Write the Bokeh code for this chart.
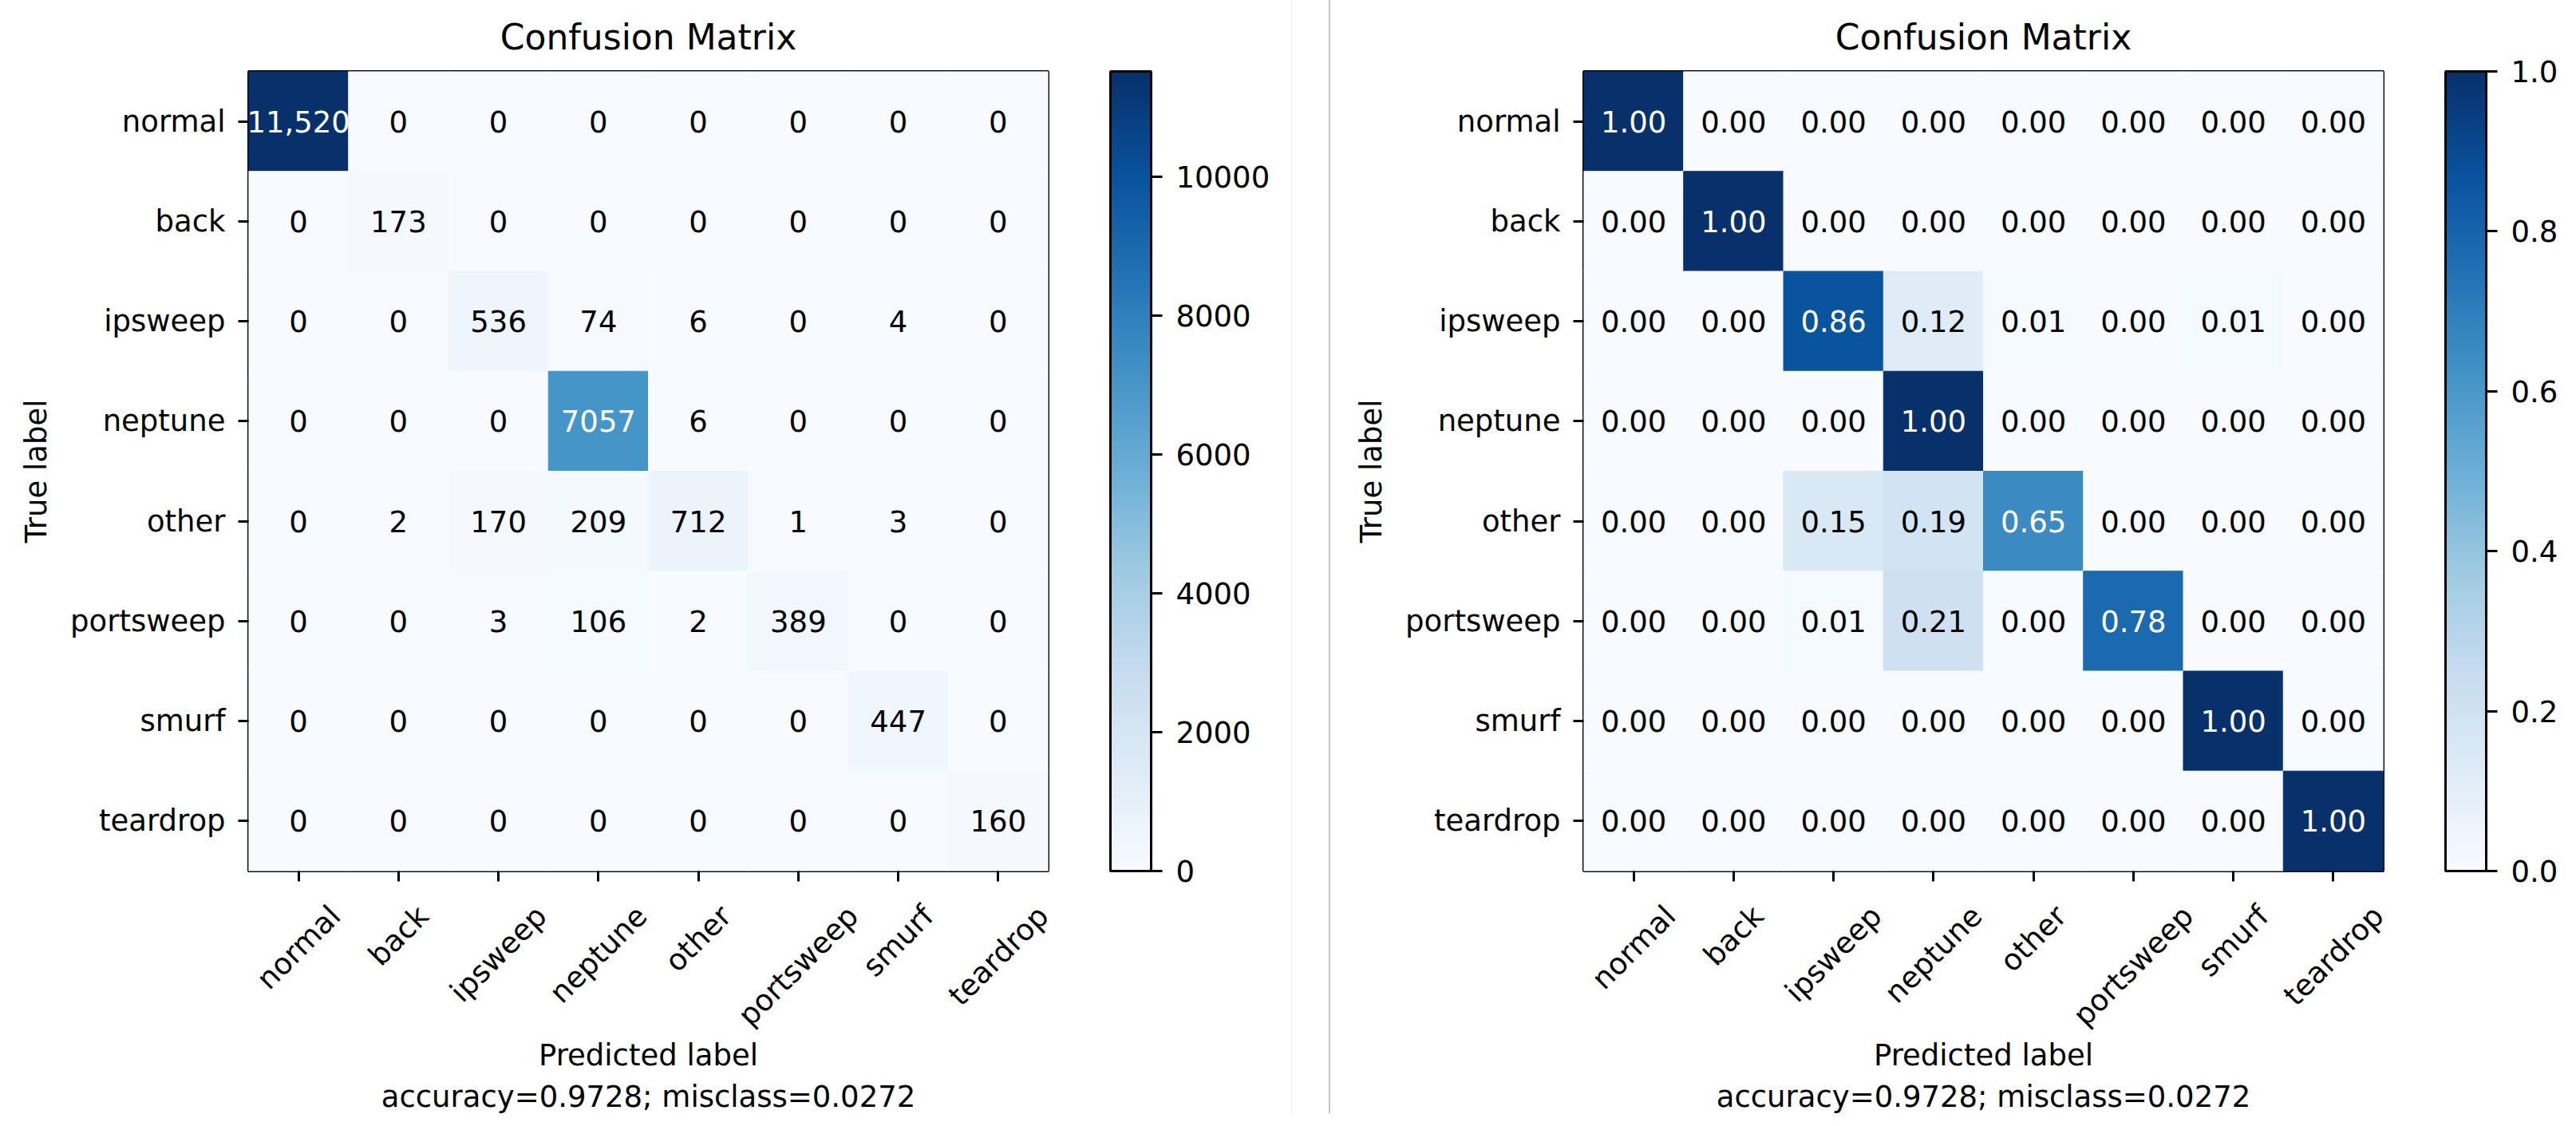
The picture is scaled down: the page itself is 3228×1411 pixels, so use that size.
import math
from bokeh.plotting import figure
from bokeh.models import (ColumnDataSource, LinearColorMapper, ColorBar, FixedTicker, LinearAxis,
                          Range1d, Div, Spacer, PrintfTickFormatter, BasicTickFormatter)
from bokeh.layouts import row
from bokeh.transform import transform
from bokeh.core.properties import value
from bokeh.embed import file_html
from bokeh.resources import INLINE
from bokeh.palettes import Blues256

# ---------------- data ----------------
classes = ["normal", "back", "ipsweep", "neptune", "other", "portsweep", "smurf", "teardrop"]

counts = [
    [11520, 0, 0, 0, 0, 0, 0, 0],
    [0, 173, 0, 0, 0, 0, 0, 0],
    [0, 0, 536, 74, 6, 0, 4, 0],
    [0, 0, 0, 7057, 6, 0, 0, 0],
    [0, 2, 170, 209, 712, 1, 3, 0],
    [0, 0, 3, 106, 2, 389, 0, 0],
    [0, 0, 0, 0, 0, 0, 447, 0],
    [0, 0, 0, 0, 0, 0, 0, 160],
]

normalized = [
    [1.00, 0.00, 0.00, 0.00, 0.00, 0.00, 0.00, 0.00],
    [0.00, 1.00, 0.00, 0.00, 0.00, 0.00, 0.00, 0.00],
    [0.00, 0.00, 0.86, 0.12, 0.01, 0.00, 0.01, 0.00],
    [0.00, 0.00, 0.00, 1.00, 0.00, 0.00, 0.00, 0.00],
    [0.00, 0.00, 0.15, 0.19, 0.65, 0.00, 0.00, 0.00],
    [0.00, 0.00, 0.01, 0.21, 0.00, 0.78, 0.00, 0.00],
    [0.00, 0.00, 0.00, 0.00, 0.00, 0.00, 1.00, 0.00],
    [0.00, 0.00, 0.00, 0.00, 0.00, 0.00, 0.00, 1.00],
]

counts_cbar_ticks = [0, 2000, 4000, 6000, 8000, 10000]
norm_cbar_ticks = [0.0, 0.2, 0.4, 0.6, 0.8, 1.0]

title_text = "Confusion Matrix"
ylabel_text = "True label"
xlabel_text = "Predicted label\naccuracy=0.9728; misclass=0.0272"

# ---------------- style ----------------
FONT = "DejaVu Sans"
FS = 37
FRAME = 1002
N = len(classes)
CELL = FRAME / N
PAL = list(reversed(Blues256))

# approximate DejaVu Sans advance widths (em)
CW = {'a': .613, 'b': .635, 'c': .550, 'd': .635, 'e': .615, 'f': .352, 'h': .634, 'i': .278,
      'k': .579, 'l': .278, 'm': .974, 'n': .634, 'o': .612, 'p': .635, 'r': .411, 's': .521,
      't': .392, 'u': .634, 'w': .818}


def text_w(s):
    return sum(CW.get(ch, 0.6) for ch in s) * FS


def fmt_count(v):
    return "{:,}".format(v) if v >= 10000 else str(v)


def fmt_norm(v):
    return "{:.2f}".format(v)


def style_axis(ax):
    ax.axis_line_color = None
    ax.major_tick_line_color = "black"
    ax.major_tick_line_width = 3
    ax.major_tick_in = 0
    ax.major_tick_out = 13
    ax.minor_tick_line_color = None
    ax.major_label_text_font = FONT
    ax.major_label_text_font_size = "%dpx" % FS
    ax.major_label_text_color = "black"
    ax.axis_label_text_font = FONT
    ax.axis_label_text_font_size = "%dpx" % FS
    ax.axis_label_text_font_style = "normal"
    ax.axis_label_text_color = "black"


def make_panel(matrix, vmax, fmt, cticks, cfmt, ml, mr):
    xs, ys, vals, texts, colors = [], [], [], [], []
    for i in range(N):
        for j in range(N):
            v = matrix[i][j]
            xs.append(j)
            ys.append(i)
            vals.append(v)
            texts.append(fmt(v))
            colors.append("white" if v > vmax / 2 else "black")
    src = ColumnDataSource(dict(x=xs, y=ys, v=vals, t=texts, c=colors))
    mapper = LinearColorMapper(palette=PAL, low=0, high=vmax)

    p = figure(frame_width=FRAME, frame_height=FRAME,
               x_range=Range1d(-0.5, N - 0.5), y_range=Range1d(N - 0.5, -0.5),
               output_backend="svg", toolbar_location=None,
               min_border_left=ml, min_border_right=mr,
               min_border_top=88, min_border_bottom=305,
               title=title_text)
    p.background_fill_color = "white"
    p.border_fill_color = "white"
    p.outline_line_color = "black"
    p.outline_line_width = 3
    p.grid.visible = False

    p.title.align = "center"
    p.title.text_font = FONT
    p.title.text_font_size = "44px"
    p.title.text_font_style = "normal"
    p.title.text_color = "black"
    p.title.standoff = 36

    p.rect(x="x", y="y", width=1, height=1, source=src,
           fill_color=transform("v", mapper), line_color=transform("v", mapper), line_width=1)
    p.text(x="x", y="y", text="t", source=src, text_color="c",
           text_align="center", text_baseline="middle",
           text_font=value(FONT), text_font_size="%dpx" % FS)

    # y axis: class names
    yax = p.yaxis[0]
    style_axis(yax)
    yax.ticker = FixedTicker(ticks=list(range(N)))
    yax.major_label_overrides = {i: c for i, c in enumerate(classes)}
    yax.major_label_standoff = 16
    yax.axis_label = ylabel_text
    yax.axis_label_standoff = 18

    # x axis: tick marks only
    xax = p.xaxis[0]
    style_axis(xax)
    xax.ticker = FixedTicker(ticks=list(range(N)))
    xax.major_label_overrides = {i: "" for i in range(N)}
    xax.major_label_text_font_size = "0px"
    xax.major_label_standoff = 0

    # x axis labels, rotated 45 deg and centred under each tick (matplotlib style)
    shifted = [round(i + 0.3536 * text_w(c) / CELL, 4) for i, c in enumerate(classes)]
    lab_ax = LinearAxis(ticker=FixedTicker(ticks=shifted),
                        major_label_overrides={s: c for s, c in zip(shifted, classes)})
    style_axis(lab_ax)
    lab_ax.major_tick_line_color = None
    lab_ax.major_tick_out = 0
    lab_ax.major_label_orientation = math.pi / 4
    lab_ax.major_label_standoff = 37
    lab_ax.axis_label = xlabel_text
    lab_ax.axis_label_standoff = -11
    p.add_layout(lab_ax, "below")

    cb = ColorBar(color_mapper=mapper, ticker=FixedTicker(ticks=cticks), formatter=cfmt,
                  width=51, padding=0, margin=0, location=(78, 0),
                  bar_line_color="black", bar_line_width=3,
                  major_tick_line_color="black", major_tick_line_width=3,
                  major_tick_in=0, major_tick_out=14, minor_tick_line_color=None,
                  label_standoff=17, major_label_text_font=FONT,
                  major_label_text_font_size="%dpx" % FS, major_label_text_color="black",
                  background_fill_color=None, border_line_color=None)
    p.add_layout(cb, "right")
    return p


p1 = make_panel(counts, 11520, fmt_count, counts_cbar_ticks, BasicTickFormatter(), 311, 305)
p2 = make_panel(normalized, 1.0, fmt_norm, norm_cbar_ticks, PrintfTickFormatter(format="%.1f"), 317, 226)

faint = Div(width=1, height=1395, margin=0, styles={"background-color": "#f3f3f3"})
gap = Spacer(width=46, height=1395, margin=0)
divider = Div(width=2, height=1395, margin=0, styles={"background-color": "#c4c4c4"})

layout = row(p1, faint, gap, divider, p2, spacing=0)

open("out.html", "w").write(file_html(layout, INLINE))
